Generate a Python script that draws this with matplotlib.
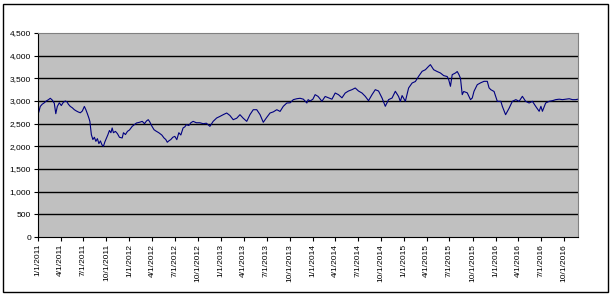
import matplotlib
matplotlib.use("Agg")
import matplotlib.pyplot as plt
import matplotlib.dates as mdates
from matplotlib.ticker import FuncFormatter, MultipleLocator
from matplotlib.patches import Rectangle
import pandas as pd

plt.rcParams['font.family'] = ['Liberation Sans', 'DejaVu Sans']

start_date = "2011-01-01"
day_offsets = [
    0, 3, 9, 17, 25, 33, 42, 49, 57, 65, 71, 77, 85, 93, 101, 109, 116, 121, 129, 137,
    145, 153, 161, 169, 177, 185, 191, 197, 203, 207, 213, 219, 225, 231, 237, 243, 249, 255, 261, 267,
    273, 279, 285, 291, 296, 301, 309, 317, 325, 336, 341, 349, 357, 365, 376, 385, 393, 405, 416, 425,
    433, 440, 446, 454, 463, 470, 482, 494, 503, 510, 516, 522, 530, 538, 546, 554, 562, 570, 579, 586,
    592, 602, 610, 619, 632, 646, 659, 672, 686, 699, 713, 726, 739, 753, 766, 779, 793, 806, 819, 833,
    846, 859, 873, 886, 899, 913, 926, 939, 953, 966, 979, 993, 1006, 1019, 1033, 1046, 1059, 1073, 1078, 1086,
    1097, 1106, 1118, 1133, 1146, 1159, 1173, 1186, 1199, 1213, 1226, 1239, 1253, 1266, 1279, 1293, 1306, 1319, 1333, 1346,
    1359, 1373, 1386, 1399, 1413, 1426, 1439, 1446, 1453, 1466, 1479, 1493, 1506, 1519, 1533, 1546, 1559, 1566, 1579, 1593,
    1606, 1619, 1633, 1639, 1646, 1653, 1666, 1673, 1680, 1686, 1693, 1699, 1713, 1726, 1733, 1740, 1753, 1766, 1780, 1793,
    1800, 1807, 1820, 1833, 1847, 1853, 1866, 1880, 1893, 1907, 1920, 1933, 1946, 1960, 1973, 1986, 2000, 2007, 2013, 2026,
    2040, 2053, 2066, 2080, 2093, 2106, 2120, 2133, 2146, 2155,
]
values = [
    2790, 2750, 2880, 2930, 2960, 3000, 3030, 3060, 3020, 2950, 2720, 2880, 2960, 2900, 2970, 3000, 2980, 2930, 2880, 2850,
    2808, 2780, 2757, 2740, 2780, 2880, 2808, 2720, 2625, 2550, 2257, 2150, 2200, 2110, 2170, 2060, 2120, 2036, 2000, 2100,
    2180, 2257, 2350, 2300, 2405, 2300, 2330, 2280, 2200, 2184, 2300, 2260, 2330, 2360, 2441, 2480, 2515, 2530, 2551, 2500,
    2560, 2588, 2540, 2450, 2367, 2340, 2300, 2250, 2184, 2150, 2090, 2120, 2150, 2200, 2220, 2147, 2300, 2250, 2405, 2430,
    2478, 2460, 2520, 2551, 2520, 2520, 2500, 2510, 2441, 2551, 2625, 2660, 2698, 2735, 2680, 2588, 2620, 2698, 2620, 2551,
    2700, 2808, 2808, 2700, 2530, 2640, 2735, 2760, 2808, 2770, 2883, 2956, 2960, 3030, 3050, 3060, 3040, 2956, 3030, 3000,
    3040, 3140, 3100, 2993, 3100, 3070, 3040, 3176, 3140, 3070, 3176, 3220, 3250, 3287, 3220, 3176, 3103, 3007, 3140, 3250,
    3220, 3066, 2883, 3030, 3066, 3214, 3100, 2990, 3120, 2993, 3287, 3397, 3430, 3545, 3655, 3690, 3766, 3802, 3690, 3650,
    3618, 3560, 3540, 3470, 3324, 3581, 3618, 3650, 3581, 3500, 3140, 3210, 3180, 3030, 3066, 3214, 3360, 3400, 3434, 3434,
    3290, 3250, 3210, 2993, 2993, 2883, 2698, 2840, 2993, 3030, 2993, 3103, 2993, 2956, 2993, 2883, 2773, 2883, 2773, 2956,
    2993, 3007, 3030, 3040, 3030, 3040, 3050, 3030, 3030, 3040,
]
y_ticks = [0, 500, 1000, 1500, 2000, 2500, 3000, 3500, 4000, 4500]

dates = pd.Timestamp(start_date) + pd.to_timedelta(day_offsets, unit="D")

fig = plt.figure(figsize=(6.13, 2.96), dpi=100)
fig.patches.append(Rectangle((3 / 613, 4 / 296), 605 / 613, 288 / 296, transform=fig.transFigure,
                             fill=False, edgecolor="black", linewidth=1.0))
ax = fig.add_axes([38 / 613, 1 - 237 / 296, 540 / 613, 204 / 296])
ax.set_facecolor("#C0C0C0")

ax.plot(dates, values, color="#000080", linewidth=0.8)

ax.set_ylim(0, 4500)
ax.set_yticks(y_ticks)
ax.yaxis.set_major_formatter(FuncFormatter(lambda v, p: f"{int(v):,}"))
for t in y_ticks[1:-1]:
    ax.axhline(t, color="black", linewidth=1.0, zorder=1)

ax.set_xlim(dates[0], dates[-1])
ax.xaxis.set_major_locator(mdates.MonthLocator(bymonth=[1, 4, 7, 10], bymonthday=1))
ax.xaxis.set_major_formatter(FuncFormatter(lambda v, p: (lambda d: f"{d.month}/{d.day}/{d.year}")(mdates.num2date(v))))
for lab in ax.get_xticklabels():
    pass
ax.tick_params(axis="x", labelrotation=90, labelsize=6, length=3, width=0.8, pad=2, colors="black")
ax.tick_params(axis="y", labelsize=6, length=3, width=0.8, pad=2, colors="black")
for lab in ax.get_xticklabels():
    lab.set_va("top")
    lab.set_ha("center")

ax.spines["left"].set_color("black")
ax.spines["bottom"].set_color("black")
ax.spines["top"].set_color("#808080")
ax.spines["right"].set_color("#808080")
for s in ax.spines.values():
    s.set_linewidth(0.8)

fig.savefig("out.png", dpi=100, facecolor="white")
